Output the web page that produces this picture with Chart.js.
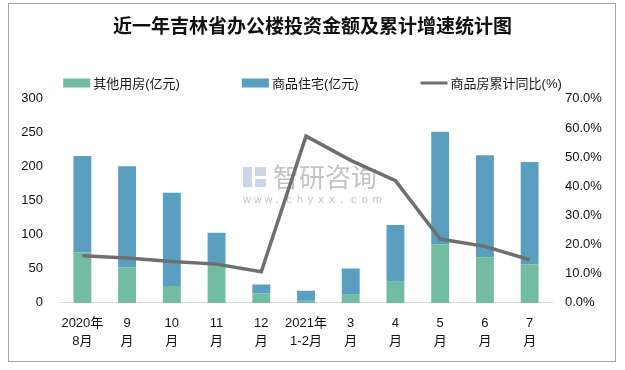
<!DOCTYPE html>
<html>
<head>
<meta charset="utf-8">
<script src="https://cdn.jsdelivr.net/npm/chart.js@4/dist/chart.umd.min.js"></script>
<style>
  html, body { margin: 0; padding: 0; background: #fff; }
  #wrap { position: relative; width: 625px; height: 370px; }
</style>
</head>
<body>
<div id="wrap"><canvas id="chart" width="625" height="370"></canvas></div>
<script>
const categories = [
  ['2020年', '8月'], ['9', '月'], ['10', '月'], ['11', '月'], ['12', '月'],
  ['2021年', '1-2月'], ['3', '月'], ['4', '月'], ['5', '月'], ['6', '月'], ['7', '月']
];
const otherBuildings = [74, 52.5, 25, 57, 14, 3, 12, 31, 86, 67, 56.5];   // 其他用房(亿元)
const housing        = [142, 148.5, 137, 46, 13, 15, 38.6, 83.6, 165.5, 150, 150.5]; // 商品住宅(亿元)
const cumulativeYoY  = [16.2, 15.4, 14.2, 13.3, 10.7, 57.2, 48.9, 41.9, 21.9, 19.4, 14.8]; // 商品房累计同比(%)

const GREEN = '#72bca3';
const BLUE  = '#5b9fc0';
const GRAY  = '#6f6f6f';
const FONT  = '"Liberation Sans", "Noto Sans CJK SC", sans-serif';

const frame = {
  id: 'frame',
  beforeDraw(chart) {
    const c = chart.ctx;
    c.save();
    c.fillStyle = '#fff';
    c.fillRect(0, 0, chart.width, chart.height);
    c.strokeStyle = '#a6a6a6';
    c.lineWidth = 1;
    c.strokeRect(8.5, 3.5, 607, 358);
    c.restore();
  }
};

const watermark = {
  id: 'watermark',
  beforeDatasetsDraw(chart) {
    const c = chart.ctx;
    c.save();
    c.fillStyle = 'rgba(190,205,225,0.8)';
    c.fillRect(243, 167, 9, 20);
    c.fillRect(255, 167, 11, 9);
    c.fillRect(255, 179, 11, 8);
    c.fillStyle = 'rgba(185,185,185,0.85)';
    c.font = '26px "Noto Sans CJK SC", sans-serif';
    c.textBaseline = 'middle';
    c.fillText('智研咨询', 273, 177);
    c.font = '11px "Liberation Sans", sans-serif';
    const s = 'www.chyxx.com';
    for (let i = 0; i < s.length; i++) c.fillText(s[i], 243 + i * 10.8, 200);
    c.restore();
  }
};

const legendBar = {
  id: 'legendBar',
  afterDraw(chart) {
    const c = chart.ctx;
    const ds = chart.data.datasets;
    const order = [1, 2, 0];
    c.save();
    c.font = '13px ' + FONT;
    c.textBaseline = 'middle';
    const gap = 62, box = 27, y = 83;
    const widths = order.map(i => box + 3 + c.measureText(ds[i].label).width);
    let x = (chart.width - widths.reduce((a, b) => a + b, 0) - gap * 2) / 2;
    order.forEach((i, k) => {
      const d = ds[i];
      if (d.type === 'line') {
        c.strokeStyle = d.borderColor;
        c.lineWidth = 3;
        c.beginPath(); c.moveTo(x, y); c.lineTo(x + box, y); c.stroke();
      } else {
        c.fillStyle = d.backgroundColor;
        c.fillRect(x, y - 4.5, box, 9);
      }
      c.fillStyle = '#1a1a1a';
      c.fillText(d.label, x + box + 3, y + 1);
      x += widths[k] + gap;
    });
    c.restore();
  }
};

new Chart(document.getElementById('chart'), {
  data: {
    labels: categories,
    datasets: [
      { type: 'line', label: '商品房累计同比(%)', data: cumulativeYoY, yAxisID: 'y1',
        borderColor: GRAY, backgroundColor: GRAY, borderWidth: 3.5, pointRadius: 0, tension: 0, order: 0 },
      { type: 'bar', label: '其他用房(亿元)', data: otherBuildings, yAxisID: 'y', stack: 's',
        backgroundColor: GREEN, barPercentage: 0.4, categoryPercentage: 1, order: 1 },
      { type: 'bar', label: '商品住宅(亿元)', data: housing, yAxisID: 'y', stack: 's',
        backgroundColor: BLUE, barPercentage: 0.4, categoryPercentage: 1, order: 1 }
    ]
  },
  options: {
    responsive: false,
    animation: false,
    layout: { padding: { top: 0, bottom: 8, left: 0, right: 0 } },
    plugins: {
      legend: { display: false },
      tooltip: { enabled: false },
      title: {
        display: true,
        text: '近一年吉林省办公楼投资金额及累计增速统计图',
        color: '#111',
        font: { family: '"Liberation Serif", "Noto Sans CJK SC", serif', size: 19, weight: 'bold' },
        padding: { top: 17, bottom: 59 }
      }
    },
    scales: {
      x: {
        stacked: true,
        grid: { display: false, drawTicks: false },
        border: { display: true, color: '#d9d9d9', width: 1 },
        ticks: { color: '#111', font: { family: FONT, size: 13, lineHeight: 1.35 }, padding: 12, maxRotation: 0, autoSkip: false }
      },
      y: {
        position: 'left',
        stacked: true,
        min: 0, max: 300,
        grid: { display: false, drawTicks: false },
        border: { display: false },
        ticks: { stepSize: 50, color: '#111', font: { family: FONT, size: 13 }, padding: 17 },
        afterFit(s) { s.width = 60; }
      },
      y1: {
        position: 'right',
        min: 0, max: 70,
        grid: { display: false, drawTicks: false },
        border: { display: false },
        ticks: { stepSize: 10, color: '#111', font: { family: FONT, size: 13 }, padding: 13,
                 callback: v => v.toFixed(1) + '%' },
        afterFit(s) { s.width = 73; }
      }
    }
  },
  plugins: [frame, watermark, legendBar]
});
</script>
</body>
</html>
